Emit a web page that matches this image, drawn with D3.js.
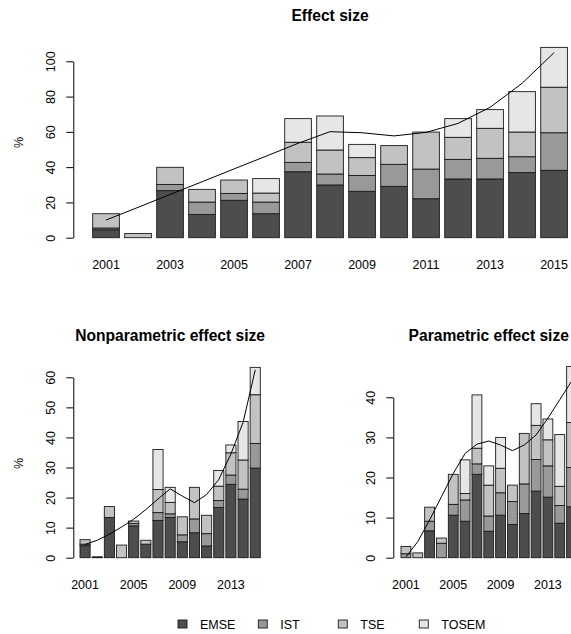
<!DOCTYPE html>
<html>
<head>
<meta charset="utf-8">
<script src="https://cdn.jsdelivr.net/npm/d3@7"></script>
<style>
  body { margin: 0; background: #fff; }
  svg { display: block; font-family: "Liberation Sans", Arial, Helvetica, sans-serif; }
</style>
</head>
<body>
<svg id="chart" width="571" height="634"></svg>
<script>
const years = ['2001','2002','2003','2004','2005','2006','2007','2008','2009','2010','2011','2012','2013','2014','2015'];
const venues = ['EMSE', 'IST', 'TSE', 'TOSEM'];
const colors = ['#4d4d4d', '#999999', '#c2c2c2', '#e6e6e6'];

// Effect size (all)
const effEMSE  = [4.5, 0, 26.7, 13.2, 21.2, 13.6, 37.4, 29.9, 26.3, 29.1, 22.1, 33.3, 33.3, 36.9, 38.2];
const effIST   = [1.0, 0, 3.5, 7.0, 3.9, 6.6, 5.3, 6.2, 9.0, 12.5, 16.8, 11.1, 11.7, 9.0, 21.3];
const effTSE   = [8.1, 2.4, 9.7, 7.2, 7.6, 5.1, 11.4, 13.6, 10.1, 10.6, 21.0, 12.5, 17.0, 14.0, 25.8];
const effTOSEM = [0, 0, 0, 0, 0, 8.2, 13.4, 19.3, 7.5, 0, 0, 10.6, 10.6, 22.9, 22.6];
const effTrend = [10.0, 17.2, 24.5, 31.7, 39.0, 46.2, 53.5, 60.1, 59.5, 57.7, 59.7, 64.8, 73.9, 87.5, 104.9];

// Nonparametric effect size
const nonEMSE  = [4.0, 0.3, 13.4, 0, 10.6, 4.5, 12.4, 13.4, 5.3, 8.3, 3.9, 16.7, 24.4, 19.5, 29.8];
const nonIST   = [0.5, 0, 0, 0, 0.8, 0, 2.6, 1.2, 2.3, 4.6, 4.1, 2.3, 3.1, 3.3, 8.2];
const nonTSE   = [1.5, 0, 3.6, 4.2, 0.8, 1.3, 7.7, 3.8, 6.0, 10.5, 6.1, 4.8, 7.4, 9.7, 16.2];
const nonTOSEM = [0, 0, 0, 0, 0, 0, 13.3, 5.0, 0, 0, 0, 5.2, 2.6, 12.8, 9.1];
const nonTrend = [4.4, 5.8, 7.8, 10.2, 12.8, 16.0, 19.5, 22.9, 20.5, 18.3, 21.0, 26.0, 34.5, 45.0, 62.5];

// Parametric effect size
const parEMSE  = [0, 0, 6.7, 0, 10.6, 9.1, 20.8, 6.6, 10.6, 8.3, 11.0, 16.6, 15.1, 8.6, 12.7];
const parIST   = [1.0, 0, 2.4, 3.6, 2.7, 5.3, 2.6, 3.8, 5.6, 5.7, 7.4, 7.9, 7.8, 4.4, 9.8];
const parTSE   = [1.8, 1.2, 3.5, 1.3, 7.5, 1.6, 3.9, 7.7, 6.1, 4.1, 12.6, 8.5, 6.5, 4.8, 11.2];
const parTOSEM = [0, 0, 0, 0, 0, 8.4, 13.3, 4.8, 7.7, 0, 0, 5.4, 5.2, 12.9, 14.0];
const parTrend = [0.2, 4.0, 9.4, 15.2, 21.0, 26.0, 28.3, 29.1, 28.1, 26.7, 28.1, 30.6, 34.8, 39.4, 44.0];

const svg = d3.select('#chart');

function drawPanel(p) {
    const table = years.map((y, i) => ({
        year: y, EMSE: p.series[0][i], IST: p.series[1][i], TSE: p.series[2][i], TOSEM: p.series[3][i]
    }));
    const stacked = d3.stack().keys(venues)(table);

    const x = d3.scaleBand().domain(years).range(p.xRange).paddingInner(1 / 6).paddingOuter(0);
    const y = d3.scaleLinear().domain([0, p.yMax]).range(p.yRange);
    const g = svg.append('g');

    stacked.forEach((layer, k) => {
        g.append('g').selectAll('rect')
            .data(layer)
            .join('rect')
            .attr('x', d => x(d.data.year))
            .attr('width', x.bandwidth())
            .attr('y', d => y(d[1]))
            .attr('height', d => y(d[0]) - y(d[1]))
            .attr('fill', colors[k])
            .attr('stroke', '#1a1a1a')
            .attr('stroke-width', 0.9);
    });

    const line = d3.line()
        .x((d, i) => x(years[i]) + x.bandwidth() / 2)
        .y(d => y(d));
    g.append('path')
        .attr('d', line(p.trend))
        .attr('fill', 'none')
        .attr('stroke', '#000')
        .attr('stroke-width', 1);

    // y axis, R style
    const ay = g.append('g')
        .attr('transform', `translate(${p.axisX},0)`)
        .call(d3.axisLeft(y).tickValues(d3.range(0, p.yMax + 1, p.yStep)).tickSize(7).tickSizeOuter(0));
    ay.select('.domain').attr('stroke', '#000');
    ay.selectAll('.tick line').attr('stroke', '#000');
    ay.selectAll('.tick text')
        .attr('x', null).attr('dy', null)
        .attr('text-anchor', 'middle')
        .attr('transform', 'translate(-18.5,0) rotate(-90)')
        .attr('font-size', 12.5)
        .attr('font-family', null)
        .attr('fill', '#000');

    // x labels
    g.append('g').selectAll('text')
        .data(p.xLabels)
        .join('text')
        .attr('x', d => x(d) + x.bandwidth() / 2)
        .attr('y', p.xLabelY)
        .attr('text-anchor', 'middle')
        .attr('font-size', 12.5)
        .text(d => d);

    g.append('text')
        .attr('x', (p.xRange[0] + p.xRange[1]) / 2)
        .attr('y', p.titleY)
        .attr('text-anchor', 'middle')
        .attr('font-size', 15.6)
        .attr('font-weight', 'bold')
        .text(p.title);

    if (p.ylab) {
        g.append('text')
            .attr('transform', `translate(23,${p.ylabY}) rotate(-90)`)
            .attr('text-anchor', 'middle')
            .attr('font-size', 12.5)
            .text('%');
    }
}

drawPanel({
    title: 'Effect size', titleY: 21,
    series: [effEMSE, effIST, effTSE, effTOSEM], trend: effTrend,
    xRange: [92.7, 567.4], yRange: [237.7, 61.3], yMax: 100, yStep: 20,
    axisX: 73.3, xLabels: ['2001','2003','2005','2007','2009','2011','2013','2015'], xLabelY: 268.5,
    ylab: true, ylabY: 142.5
});

drawPanel({
    title: 'Nonparametric effect size', titleY: 340.7,
    series: [nonEMSE, nonIST, nonTSE, nonTOSEM], trend: nonTrend,
    xRange: [80, 260.3], yRange: [557.7, 377.3], yMax: 60, yStep: 10,
    axisX: 73.3, xLabels: ['2001','2005','2009','2013'], xLabelY: 589,
    ylab: true, ylabY: 463.5
});

drawPanel({
    title: 'Parametric effect size', titleY: 340.7,
    series: [parEMSE, parIST, parTSE, parTOSEM], trend: parTrend,
    xRange: [401, 576.5], yRange: [557.7, 397.3], yMax: 40, yStep: 10,
    axisX: 393.3, xLabels: ['2001','2005','2009','2013'], xLabelY: 589,
    ylab: false
});

// legend
const legX = [178, 258.3, 338.3, 419.3];
const leg = svg.append('g').selectAll('g')
    .data(venues)
    .join('g')
    .attr('transform', (d, i) => `translate(${legX[i]},620)`);
leg.append('rect')
    .attr('width', 9).attr('height', 8)
    .attr('fill', (d, i) => colors[i])
    .attr('stroke', '#1a1a1a').attr('stroke-width', 0.9);
leg.append('text')
    .attr('x', 22).attr('y', 9)
    .attr('font-size', 12.5)
    .text(d => d);
</script>
</body>
</html>
